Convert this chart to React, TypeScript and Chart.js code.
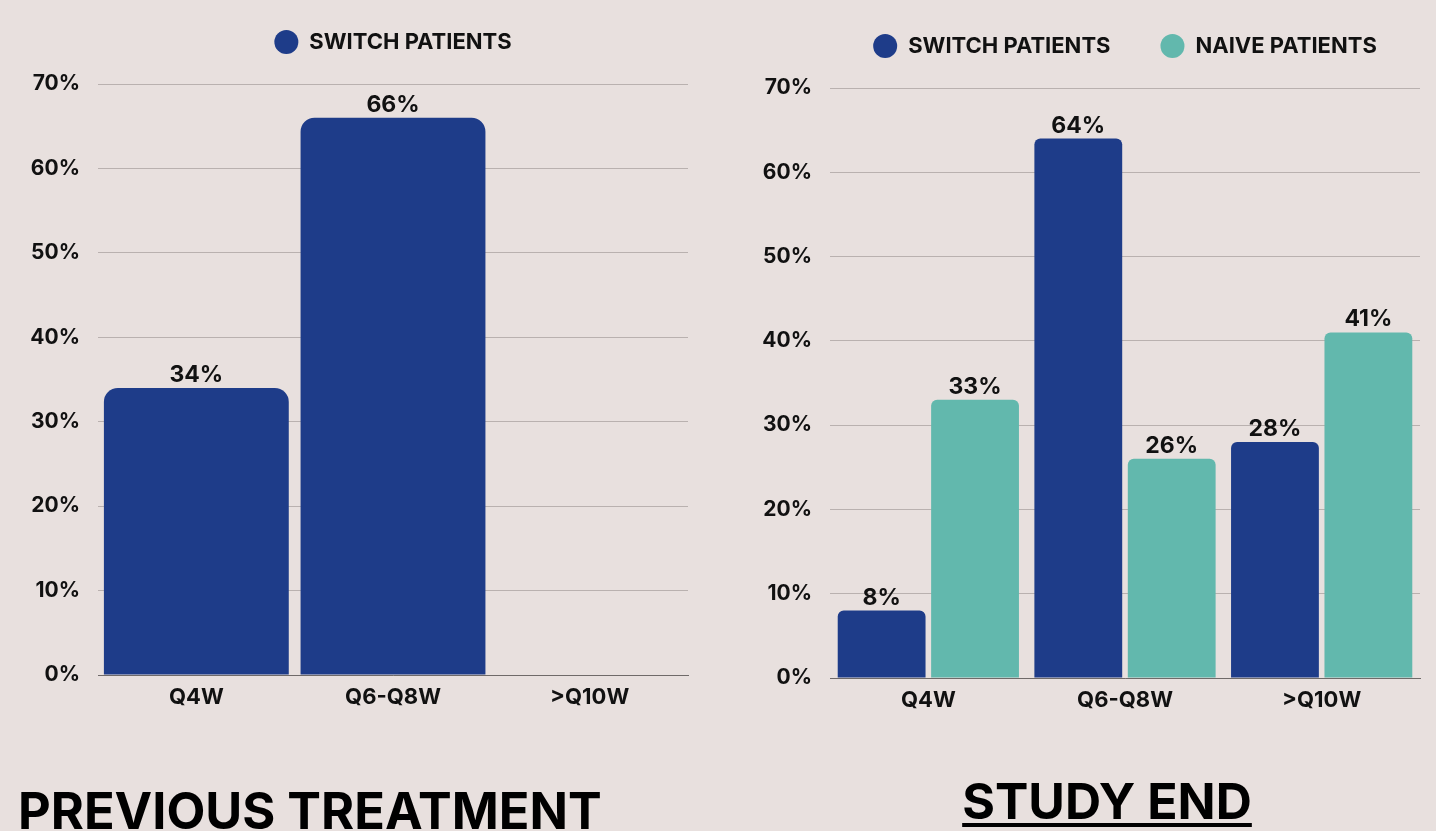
import React, { useEffect, useRef } from "react";
import { Chart, registerables } from "chart.js";

Chart.register(...registerables);

// ---- data ----
const categories = ["Q4W", "Q6-Q8W", ">Q10W"];
const previousSwitch: (number | null)[] = [34, 66, null];
const studyEndSwitch: number[] = [8, 64, 28];
const studyEndNaive: number[] = [33, 26, 41];
const seriesNames = ["SWITCH PATIENTS", "NAIVE PATIENTS"];
const panelTitles = ["PREVIOUS TREATMENT", "STUDY END"];
const yMax = 70;
const yStep = 10;

// ---- style ----
const BLUE = "#1e3c89";
const TEAL = "#62b8ad";
const BG = "#e8e0de";
const GRID = "#b9b1af";
const AXIS = "#6f6a69";
const TEXT = "#111111";
const FONT = "Inter, 'Open Sans', sans-serif";

const valueLabelPlugin = {
  id: "valueLabels",
  afterDatasetsDraw(chart: any) {
    const ctx = chart.ctx;
    ctx.save();
    ctx.font = `700 23px ${FONT}`;
    ctx.fillStyle = TEXT;
    ctx.textAlign = "center";
    ctx.textBaseline = "alphabetic";
    chart.data.datasets.forEach((ds: any, di: number) => {
      const meta = chart.getDatasetMeta(di);
      meta.data.forEach((el: any, i: number) => {
        const v = ds.data[i];
        if (v == null) return;
        ctx.fillText(v + "%", el.x, el.y - 6);
      });
    });
    ctx.restore();
  },
};

// centre the legend over the plot area rather than the whole canvas
const legendCenterPlugin = {
  id: "legendCenter",
  afterLayout(chart: any) {
    const lg = chart.legend;
    const ca = chart.chartArea;
    if (lg && ca) {
      const d = (ca.left + ca.right) / 2 - (lg.left + lg.right) / 2;
      lg.left += d;
      lg.right += d;
    }
  },
};

function makeConfig(
  datasets: any[],
  padRight: number,
  padTop: number,
  yAxisWidth: number,
  catPct: number,
  barPct: number
): any {
  return {
    type: "bar",
    data: { labels: categories, datasets },
    plugins: [valueLabelPlugin, legendCenterPlugin],
    options: {
      responsive: false,
      animation: false,
      datasets: { bar: { categoryPercentage: catPct, barPercentage: barPct } },
      layout: { padding: { left: 0, right: padRight, top: padTop, bottom: 0 } },
      plugins: {
        tooltip: { enabled: false },
        legend: {
          display: true,
          position: "top",
          align: "center",
          labels: {
            usePointStyle: true,
            pointStyle: "circle",
            boxHeight: 17,
            pointStyleWidth: 24,
            padding: 50,
            color: TEXT,
            font: { family: FONT, size: 22, weight: "700" },
          },
        },
        subtitle: {
          display: true,
          text: "",
          position: "top",
          weight: 500,
          font: { size: 1, lineHeight: 1 },
          padding: { top: 0, bottom: 20 },
        },
      },
      scales: {
        x: {
          grid: { display: false, drawTicks: false },
          border: { display: true, color: AXIS, width: 1 },
          ticks: { color: TEXT, padding: 9, font: { family: FONT, size: 22, weight: "700" } },
          afterFit(s: any) {
            s.height = 40;
          },
        },
        y: {
          min: 0,
          max: yMax,
          ticks: {
            stepSize: yStep,
            padding: 18,
            color: TEXT,
            font: { family: FONT, size: 21, weight: "700" },
            callback: (v: any) => v + "%",
          },
          grid: { color: GRID, lineWidth: 1, drawTicks: false },
          border: { display: false },
          afterFit(s: any) {
            s.width = yAxisWidth;
          },
        },
      },
    },
  };
}

export default function App() {
  const leftRef = useRef<HTMLCanvasElement>(null);
  const rightRef = useRef<HTMLCanvasElement>(null);

  useEffect(() => {
    document.body.style.margin = "0";
    const left = new Chart(
      leftRef.current!,
      makeConfig(
        [
          {
            label: seriesNames[0],
            data: previousSwitch,
            backgroundColor: BLUE,
            borderRadius: 14,
            borderSkipped: "start",
          },
        ],
        12,
        -19,
        98,
        1,
        0.94
      )
    );
    const right = new Chart(
      rightRef.current!,
      makeConfig(
        [
          {
            label: seriesNames[0],
            data: studyEndSwitch,
            backgroundColor: BLUE,
            borderRadius: 6,
            borderSkipped: "start",
          },
          {
            label: seriesNames[1],
            data: studyEndNaive,
            backgroundColor: TEAL,
            borderRadius: 6,
            borderSkipped: "start",
          },
        ],
        16,
        -15,
        112,
        0.95,
        0.94
      )
    );
    return () => {
      left.destroy();
      right.destroy();
    };
  }, []);

  return (
    <div
      style={{
        position: "fixed",
        inset: 0,
        background: BG,
        overflow: "hidden",
        fontFamily: FONT,
        color: "#000",
      }}
    >
      <canvas ref={leftRef} width={700} height={715} style={{ position: "absolute", left: 0, top: 0 }} />
      <canvas ref={rightRef} width={718} height={718} style={{ position: "absolute", left: 718, top: 0 }} />
      <div
        style={{
          position: "absolute",
          left: 18,
          top: 786,
          fontSize: 50.5,
          fontWeight: 700,
          lineHeight: 1,
          whiteSpace: "nowrap",
        }}
      >
        {panelTitles[0]}
      </div>
      <div
        style={{
          position: "absolute",
          left: 1107,
          top: 776,
          transform: "translateX(-50%)",
          fontSize: 50,
          fontWeight: 700,
          lineHeight: 1,
          whiteSpace: "nowrap",
          textDecoration: "underline",
          textDecorationThickness: "4px",
          textUnderlineOffset: "4px",
        }}
      >
        {panelTitles[1]}
      </div>
    </div>
  );
}
